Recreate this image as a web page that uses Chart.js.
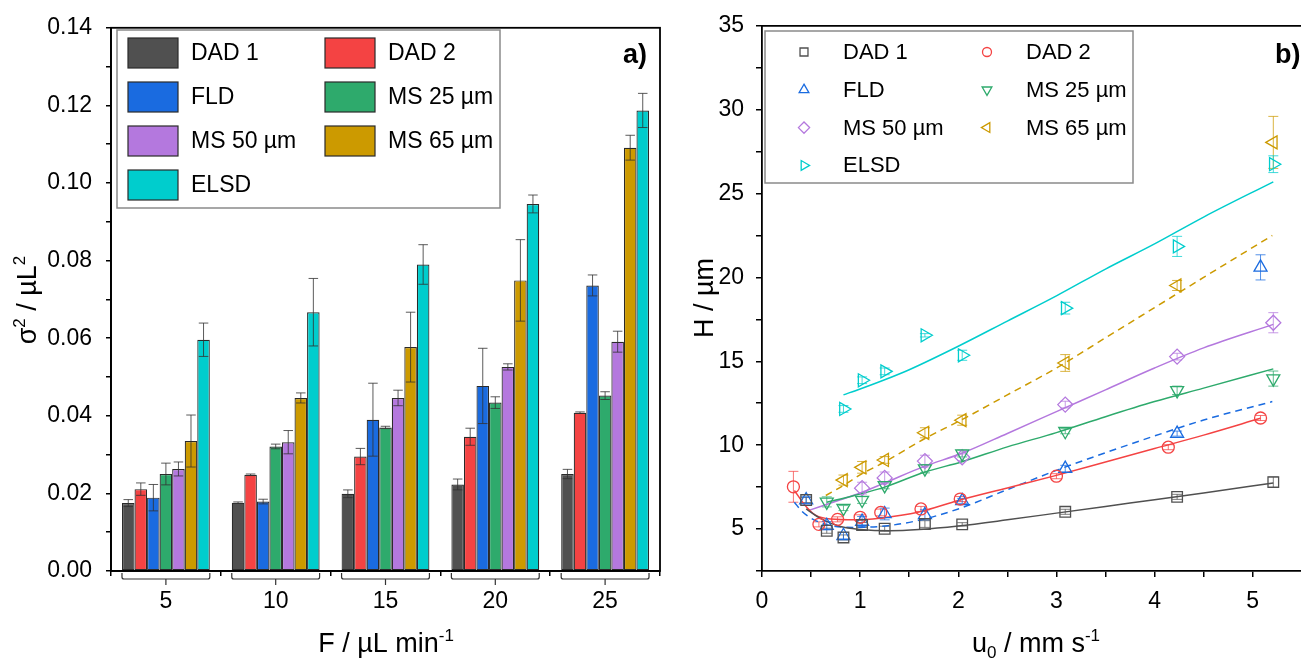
<!DOCTYPE html>
<html>
<head>
<meta charset="utf-8">
<script src="https://cdn.jsdelivr.net/npm/chart.js@4.4.1/dist/chart.umd.min.js"></script>
<style>
  body { margin: 0; background: #fff; overflow: hidden; }
  #boxA { position: absolute; left: 0; top: 0; }
  #boxB { position: absolute; left: 680px; top: 0; }
</style>
</head>
<body>
<div id="boxA"><canvas id="chartA" width="680" height="659"></canvas></div>
<div id="boxB"><canvas id="chartB" width="660" height="659"></canvas></div>
<script>
const FONT = '"Liberation Sans", Arial, sans-serif';

// shared
const detectorNames = ['DAD 1', 'DAD 2', 'FLD', 'MS 25 µm', 'MS 50 µm', 'MS 65 µm', 'ELSD'];
const detectorColors = ['#505050', '#f44343', '#1a6be0', '#2eaa6c', '#b478de', '#cc9a00', '#00cdcd'];

// a) peak variance vs flow rate
const flowRates = ['5', '10', '15', '20', '25'];
const varianceTicks = [0, 0.02, 0.04, 0.06, 0.08, 0.10, 0.12, 0.14];
const varDad1 = [0.0175, 0.0176, 0.0199, 0.0223, 0.0250];
const varDad2 = [0.0211, 0.0248, 0.0295, 0.0346, 0.0408];
const varFld  = [0.0189, 0.0179, 0.0390, 0.0477, 0.0736];
const varMs25 = [0.0250, 0.0321, 0.0370, 0.0434, 0.0452];
const varMs50 = [0.0263, 0.0332, 0.0446, 0.0526, 0.0591];
const varMs65 = [0.0335, 0.0446, 0.0577, 0.0749, 0.1091];
const varElsd = [0.0596, 0.0667, 0.0790, 0.0946, 0.1187];
const errDad1 = [0.0009, 0.0002, 0.0010, 0.0014, 0.0012];
const errDad2 = [0.0016, 0.0002, 0.0021, 0.0022, 0.0002];
const errFld  = [0.0034, 0.0006, 0.0094, 0.0097, 0.0027];
const errMs25 = [0.0028, 0.0006, 0.0003, 0.0015, 0.0010];
const errMs50 = [0.0018, 0.0030, 0.0020, 0.0008, 0.0027];
const errMs65 = [0.0067, 0.0013, 0.0090, 0.0105, 0.0032];
const errElsd = [0.0043, 0.0087, 0.0051, 0.0023, 0.0044];

// b) plate height vs linear velocity
const uTicks = [0, 1, 2, 3, 4, 5];
const hTicks = [5, 10, 15, 20, 25, 30, 35];
const uDad1 = [0.45, 0.66, 0.83, 1.02, 1.25, 1.66, 2.04, 3.09, 4.23, 5.21];
const hDad1 = [6.73, 4.90, 4.50, 5.24, 5.02, 5.30, 5.28, 6.03, 6.92, 7.80];
const eDad1 = [0.15, 0.15, 0.15, 0.15, 0.15, 0.20, 0.10, 0.15, 0.15, 0.30];
const uDad2 = [0.32, 0.58, 0.77, 1.00, 1.21, 1.62, 2.02, 3.00, 4.14, 5.08];
const hDad2 = [7.52, 5.28, 5.58, 5.70, 5.99, 6.20, 6.79, 8.15, 9.88, 11.62];
const eDad2 = [0.92, 0.15, 0.15, 0.15, 0.20, 0.15, 0.15, 0.15, 0.15, 0.15];
const uFld  = [0.45, 0.66, 0.83, 1.02, 1.25, 1.66, 2.04, 3.09, 4.23, 5.08];
const hFld  = [6.73, 5.20, 4.60, 5.45, 5.90, 5.85, 6.68, 8.60, 10.69, 20.60];
const eFld  = [0.20, 0.25, 0.20, 0.30, 0.35, 0.30, 0.15, 0.20, 0.15, 0.75];
const uMs25 = [0.66, 0.83, 1.02, 1.25, 1.66, 2.04, 3.09, 4.23, 5.21];
const hMs25 = [6.62, 6.25, 6.73, 7.60, 8.60, 9.50, 10.83, 13.27, 13.97];
const eMs25 = [0.30, 0.15, 0.20, 0.20, 0.25, 0.20, 0.15, 0.25, 0.45];
const uMs50 = [1.02, 1.25, 1.66, 2.04, 3.09, 4.23, 5.21];
const hMs50 = [7.44, 8.05, 9.05, 9.28, 12.42, 15.28, 17.30];
const eMs50 = [0.35, 0.35, 0.35, 0.20, 0.20, 0.20, 0.60];
const uMs65 = [0.83, 1.02, 1.25, 1.66, 2.04, 3.09, 4.23, 5.21];
const hMs65 = [7.92, 8.68, 9.12, 10.74, 11.49, 14.90, 19.52, 28.05];
const eMs65 = [0.30, 0.35, 0.20, 0.30, 0.30, 0.50, 0.30, 1.55];
const uElsd = [0.83, 1.02, 1.25, 1.66, 2.04, 3.09, 4.23, 5.21];
const hElsd = [12.16, 13.87, 14.40, 16.55, 15.36, 18.17, 21.85, 26.75];
const eElsd = [0.20, 0.20, 0.20, 0.10, 0.30, 0.35, 0.60, 0.50];

// van Deemter fit curves
const fitUDad1 = [0.45, 0.60, 0.80, 1.00, 1.30, 1.60, 2.00, 2.50, 3.00, 3.50, 4.00, 4.50, 5.21];
const fitHDad1 = [6.20, 5.62, 5.15, 4.98, 4.90, 4.97, 5.18, 5.55, 5.95, 6.35, 6.75, 7.15, 7.75];
const fitUDad2 = [0.33, 0.44, 0.54, 0.70, 0.95, 1.20, 1.60, 2.00, 2.50, 3.00, 3.50, 4.00, 4.50, 5.08];
const fitHDad2 = [7.30, 6.40, 5.85, 5.60, 5.55, 5.65, 6.02, 6.70, 7.45, 8.20, 9.00, 9.80, 10.60, 11.60];
const fitUFld  = [0.33, 0.40, 0.50, 0.67, 0.94, 1.28, 1.62, 2.00, 2.50, 3.00, 3.50, 4.00, 4.50, 5.20];
const fitHFld  = [6.60, 6.10, 5.65, 5.25, 5.10, 5.20, 5.55, 6.20, 7.35, 8.50, 9.55, 10.55, 11.50, 12.60];
const fitUMs25 = [0.66, 0.94, 1.25, 1.66, 2.03, 2.50, 3.00, 3.50, 4.00, 4.50, 5.21];
const fitHMs25 = [6.60, 7.00, 7.50, 8.40, 9.00, 9.90, 10.75, 11.70, 12.60, 13.40, 14.55];
const fitUMs50 = [0.47, 0.80, 1.00, 1.25, 1.66, 2.03, 2.50, 3.00, 3.50, 4.00, 4.50, 5.21];
const fitHMs50 = [6.10, 6.75, 7.15, 7.75, 8.75, 9.50, 10.70, 12.00, 13.30, 14.60, 15.80, 17.20];
const fitUMs65 = [0.65, 0.83, 1.02, 1.25, 1.66, 2.03, 2.50, 3.00, 3.50, 4.00, 4.50, 5.20];
const fitHMs65 = [7.00, 7.60, 8.30, 9.00, 10.40, 11.50, 13.00, 14.60, 16.40, 18.20, 20.00, 22.50];
const fitUElsd = [0.83, 1.00, 1.25, 1.50, 2.00, 2.50, 3.00, 3.50, 4.00, 4.50, 5.21];
const fitHElsd = [13.00, 13.35, 13.90, 14.50, 15.90, 17.40, 18.90, 20.50, 22.00, 23.60, 25.70];

const barValues = [varDad1, varDad2, varFld, varMs25, varMs50, varMs65, varElsd];
const barErrors = [errDad1, errDad2, errFld, errMs25, errMs50, errMs65, errElsd];
const pointU = [uDad1, uDad2, uFld, uMs25, uMs50, uMs65, uElsd];
const pointH = [hDad1, hDad2, hFld, hMs25, hMs50, hMs65, hElsd];
const pointE = [eDad1, eDad2, eFld, eMs25, eMs50, eMs65, eElsd];
const fitU = [fitUDad1, fitUDad2, fitUFld, fitUMs25, fitUMs50, fitUMs65, fitUElsd];
const fitH = [fitHDad1, fitHDad2, fitHFld, fitHMs25, fitHMs50, fitHMs65, fitHElsd];
const markerStyles = [
  { pointStyle: 'rect', rotation: 0, radius: 7.5 },
  { pointStyle: 'circle', rotation: 0, radius: 6 },
  { pointStyle: 'triangle', rotation: 0, radius: 7.5 },
  { pointStyle: 'triangle', rotation: 180, radius: 7.5 },
  { pointStyle: 'rectRot', rotation: 0, radius: 7.5 },
  { pointStyle: 'triangle', rotation: 270, radius: 7.5 },
  { pointStyle: 'triangle', rotation: 90, radius: 7.5 }
];
const dashedFits = [false, false, true, false, false, true, false];

// page x of the right canvas
const OFF_B = 680;

function hexA(hex, a) {
  const n = parseInt(hex.slice(1), 16);
  return 'rgba(' + (n >> 16) + ',' + ((n >> 8) & 255) + ',' + (n & 255) + ',' + a + ')';
}

// text with super/subscripts, (x,y) = centre of baseline
function drawRich(ctx, parts, x, y, size, rotate) {
  const small = Math.round(size * 0.62);
  ctx.save();
  ctx.translate(x, y);
  if (rotate) ctx.rotate(-Math.PI / 2);
  ctx.textAlign = 'left';
  ctx.textBaseline = 'alphabetic';
  ctx.fillStyle = '#000';
  let total = 0;
  parts.forEach(p => {
    ctx.font = (p[1] === 'n' ? size : small) + 'px ' + FONT;
    total += ctx.measureText(p[0]).width;
  });
  let cx = -total / 2;
  parts.forEach(p => {
    ctx.font = (p[1] === 'n' ? size : small) + 'px ' + FONT;
    const dy = p[1] === 'sup' ? -size * 0.4 : (p[1] === 'sub' ? size * 0.22 : 0);
    ctx.fillText(p[0], cx, dy);
    cx += ctx.measureText(p[0]).width;
  });
  ctx.restore();
}

function drawMarker(ctx, st, x, y, color, scale) {
  ctx.save();
  ctx.strokeStyle = color;
  ctx.fillStyle = 'rgba(0,0,0,0)';
  ctx.lineWidth = 1.3;
  Chart.helpers.drawPoint(ctx, {
    pointStyle: st.pointStyle, rotation: st.rotation,
    radius: st.radius * scale, borderWidth: 1.3
  }, x, y);
  ctx.restore();
}

// ---------- chart a) ----------
const barDecor = {
  id: 'barDecor',
  afterDatasetsDraw(chart) {
    const ctx = chart.ctx;
    const yS = chart.scales.y;
    // error bars
    ctx.save();
    ctx.strokeStyle = 'rgba(50,50,50,0.8)';
    ctx.lineWidth = 1;
    chart.data.datasets.forEach((ds, i) => {
      const meta = chart.getDatasetMeta(i);
      meta.data.forEach((bar, j) => {
        const v = barValues[i][j], e = barErrors[i][j];
        const yt = yS.getPixelForValue(v + e), yb = yS.getPixelForValue(v - e);
        const cap = bar.width * 0.38;
        ctx.beginPath();
        ctx.moveTo(bar.x, yt); ctx.lineTo(bar.x, yb);
        ctx.moveTo(bar.x - cap, yt); ctx.lineTo(bar.x + cap, yt);
        ctx.moveTo(bar.x - cap, yb); ctx.lineTo(bar.x + cap, yb);
        ctx.stroke();
      });
    });
    ctx.restore();
  },
  afterDraw(chart) {
    const ctx = chart.ctx;
    const a = chart.chartArea;
    const xS = chart.scales.x;
    // frame
    ctx.save();
    ctx.strokeStyle = '#000';
    ctx.lineWidth = 1.8;
    ctx.strokeRect(a.left, a.top, a.right - a.left, a.bottom - a.top);
    // group brackets
    const half = (xS.width / flowRates.length) * 0.8 / 2;
    ctx.strokeStyle = '#333';
    ctx.lineWidth = 1.2;
    flowRates.forEach((f, i) => {
      const cx = xS.getPixelForValue(i);
      const y0 = a.bottom + 2, y1 = a.bottom + 8;
      ctx.beginPath();
      ctx.moveTo(cx - half, y0);
      ctx.lineTo(cx - half, y1 - 2);
      ctx.quadraticCurveTo(cx - half, y1, cx - half + 2, y1);
      ctx.lineTo(cx + half - 2, y1);
      ctx.quadraticCurveTo(cx + half, y1, cx + half, y1 - 2);
      ctx.lineTo(cx + half, y0);
      ctx.moveTo(cx, y1);
      ctx.lineTo(cx, y1 + 6);
      ctx.stroke();
    });
    // legend
    ctx.strokeStyle = '#8a8a8a';
    ctx.lineWidth = 1.5;
    ctx.strokeRect(117, 30, 383, 178);
    ctx.font = '23px ' + FONT;
    ctx.textBaseline = 'middle';
    ctx.textAlign = 'left';
    detectorNames.forEach((name, i) => {
      const col = i % 2, row = Math.floor(i / 2);
      const sx = col === 0 ? 128 : 325;
      const cy = 53 + row * 44;
      ctx.fillStyle = detectorColors[i];
      ctx.fillRect(sx, cy - 15, 50, 30);
      ctx.strokeStyle = '#2a2a2a';
      ctx.lineWidth = 1.2;
      ctx.strokeRect(sx, cy - 15, 50, 30);
      ctx.fillStyle = '#000';
      ctx.fillText(name, sx + 63, cy + 1);
    });
    // panel label
    ctx.font = 'bold 27px ' + FONT;
    ctx.textAlign = 'right';
    ctx.textBaseline = 'alphabetic';
    ctx.fillText('a)', 647, 63);
    ctx.restore();
    // axis titles
    drawRich(ctx, [['σ', 'n'], ['2', 'sup'], [' / µL', 'n'], ['2', 'sup']], 36, 300, 27, true);
    drawRich(ctx, [['F / µL min', 'n'], ['-1', 'sup']], 386, 652, 27, false);
  }
};

new Chart(document.getElementById('chartA'), {
  type: 'bar',
  data: {
    labels: flowRates,
    datasets: detectorNames.map((name, i) => ({
      label: name,
      data: barValues[i],
      backgroundColor: detectorColors[i],
      borderColor: '#2a2a2a',
      borderWidth: 1.2,
      borderSkipped: false,
      barPercentage: 1.0,
      categoryPercentage: 0.8
    }))
  },
  options: {
    responsive: false,
    animation: false,
    events: [],
    layout: { padding: { top: 25, right: 20, left: 0, bottom: 0 } },
    plugins: { legend: { display: false }, tooltip: { enabled: false } },
    scales: {
      x: {
        offset: true,
        grid: { offset: true, drawOnChartArea: false, tickLength: 5, color: '#000', lineWidth: 1.5 },
        border: { color: '#000', width: 1.8 },
        ticks: { color: '#000', font: { family: FONT, size: 23 }, padding: 12, maxRotation: 0 },
        afterFit(s) { s.height = 88; }
      },
      y: {
        min: 0, max: 0.14,
        grid: { drawOnChartArea: false, tickLength: 5, color: '#000', lineWidth: 1.5 },
        border: { color: '#000', width: 1.8 },
        afterBuildTicks(s) {
          const t = [];
          varianceTicks.forEach((v, i) => {
            t.push({ value: v });
            if (i < varianceTicks.length - 1) t.push({ value: (v + varianceTicks[i + 1]) / 2 });
          });
          s.ticks = t;
        },
        ticks: {
          color: '#000', font: { family: FONT, size: 23 }, padding: 14, autoSkip: false,
          callback: (v, idx) => idx % 2 === 0 ? v.toFixed(2) : ''
        },
        afterFit(s) { s.width = 111; }
      }
    }
  },
  plugins: [barDecor]
});

// ---------- chart b) ----------
const pointDecor = {
  id: 'pointDecor',
  beforeDatasetsDraw(chart) {
    const ctx = chart.ctx;
    const xS = chart.scales.x, yS = chart.scales.y;
    ctx.save();
    ctx.lineWidth = 1;
    pointU.forEach((us, i) => {
      ctx.strokeStyle = hexA(detectorColors[i], 0.75);
      us.forEach((u, j) => {
        const x = xS.getPixelForValue(u);
        const yt = yS.getPixelForValue(pointH[i][j] + pointE[i][j]);
        const yb = yS.getPixelForValue(pointH[i][j] - pointE[i][j]);
        ctx.beginPath();
        ctx.moveTo(x, yt); ctx.lineTo(x, yb);
        ctx.moveTo(x - 5, yt); ctx.lineTo(x + 5, yt);
        ctx.moveTo(x - 5, yb); ctx.lineTo(x + 5, yb);
        ctx.stroke();
      });
    });
    ctx.restore();
  },
  afterDraw(chart) {
    const ctx = chart.ctx;
    const a = chart.chartArea;
    ctx.save();
    ctx.strokeStyle = '#000';
    ctx.lineWidth = 1.8;
    ctx.beginPath();
    ctx.moveTo(a.left, a.top);
    ctx.lineTo(a.right, a.top);
    ctx.stroke();
    // legend
    ctx.translate(700 - OFF_B, 0);
    ctx.fillStyle = '#fff';
    ctx.fillRect(65, 31, 368, 152);
    ctx.strokeStyle = '#8a8a8a';
    ctx.lineWidth = 1.5;
    ctx.strokeRect(65, 31, 368, 152);
    ctx.font = '22px ' + FONT;
    ctx.textBaseline = 'middle';
    ctx.textAlign = 'left';
    detectorNames.forEach((name, i) => {
      const col = i % 2, row = Math.floor(i / 2);
      const mx = col === 0 ? 104 : 287;
      const cy = 52 + row * 37.8;
      drawMarker(ctx, markerStyles[i], mx, cy, detectorColors[i], 0.75);
      ctx.fillStyle = '#000';
      ctx.fillText(name, mx + 39, cy + 1);
    });
    ctx.font = 'bold 27px ' + FONT;
    ctx.textBaseline = 'alphabetic';
    ctx.fillText('b)', 575, 63);
    ctx.restore();
    drawRich(ctx, [['H / µm', 'n']], 713 - OFF_B, 298, 27, true);
    drawRich(ctx, [['u', 'n'], ['0', 'sub'], [' / mm s', 'n'], ['-1', 'sup']], 1036 - OFF_B, 652, 27, false);
  }
};

const markerSets = detectorNames.map((name, i) => ({
  label: name,
  data: pointU[i].map((u, j) => ({ x: u, y: pointH[i][j] })),
  showLine: false,
  pointStyle: markerStyles[i].pointStyle,
  rotation: markerStyles[i].rotation,
  pointRadius: markerStyles[i].radius,
  pointBorderWidth: 1.3,
  pointBorderColor: detectorColors[i],
  pointBackgroundColor: 'rgba(0,0,0,0)',
  borderColor: detectorColors[i]
}));
const fitSets = detectorNames.map((name, i) => ({
  label: name + ' fit',
  data: fitU[i].map((u, j) => ({ x: u, y: fitH[i][j] })),
  showLine: true,
  pointRadius: 0,
  borderColor: detectorColors[i],
  borderWidth: 1.5,
  borderDash: dashedFits[i] ? [7, 5] : [],
  cubicInterpolationMode: 'monotone',
  fill: false
}));

new Chart(document.getElementById('chartB'), {
  type: 'scatter',
  data: { datasets: markerSets.concat(fitSets) },
  options: {
    responsive: false,
    animation: false,
    events: [],
    layout: { padding: { top: 25, right: 6, left: 0, bottom: 0 } },
    plugins: { legend: { display: false }, tooltip: { enabled: false } },
    scales: {
      x: {
        type: 'linear', min: 0, max: 5.8,
        grid: { drawOnChartArea: false, tickLength: 6, color: '#000', lineWidth: 1.5 },
        border: { color: '#000', width: 1.8 },
        afterBuildTicks(s) {
          const t = [];
          uTicks.forEach(v => { t.push({ value: v }); t.push({ value: v + 0.5 }); });
          s.ticks = t;
        },
        ticks: {
          color: '#000', font: { family: FONT, size: 23 }, padding: 11, autoSkip: false, maxRotation: 0,
          callback: v => uTicks.includes(v) ? String(v) : ''
        },
        afterFit(s) { s.height = 88; }
      },
      y: {
        type: 'linear', min: 2.5, max: 35,
        grid: { drawOnChartArea: false, tickLength: 6, color: '#000', lineWidth: 1.5 },
        border: { color: '#000', width: 1.8 },
        afterBuildTicks(s) {
          const t = [{ value: 2.5 }];
          hTicks.forEach((v, i) => {
            t.push({ value: v });
            if (i < hTicks.length - 1) t.push({ value: v + 2.5 });
          });
          s.ticks = t;
        },
        ticks: {
          color: '#000', font: { family: FONT, size: 23 }, padding: 12, autoSkip: false,
          callback: v => hTicks.includes(v) ? String(v) : ''
        },
        afterFit(s) { s.width = 762 - OFF_B; }
      }
    }
  },
  plugins: [pointDecor]
});
</script>
</body>
</html>
